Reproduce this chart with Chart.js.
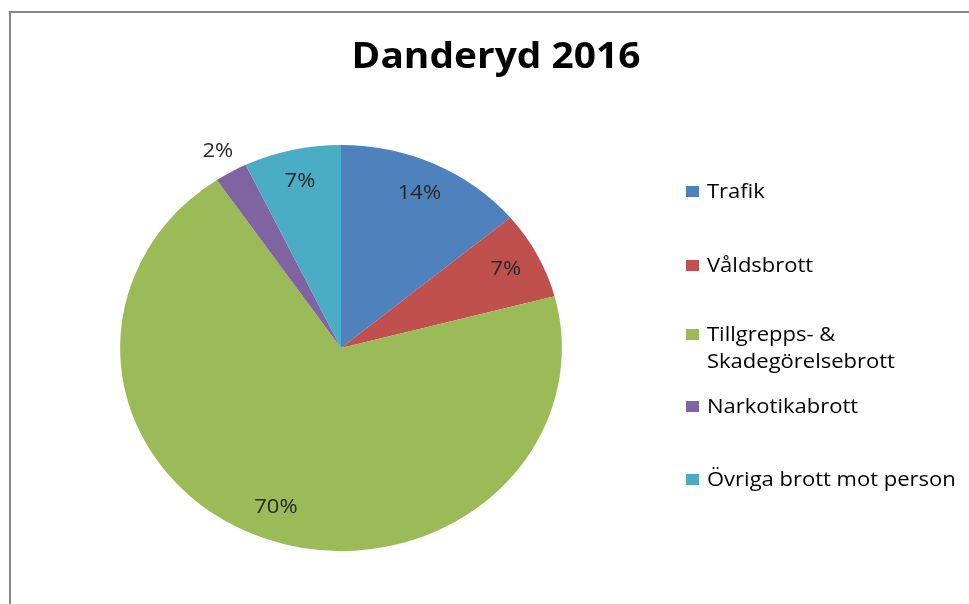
<!DOCTYPE html>
<html>
<head>
<meta charset="utf-8">
<script src="https://cdn.jsdelivr.net/npm/chart.js@4.4.0/dist/chart.umd.min.js"></script>
<style>
  html, body { margin: 0; padding: 0; background: #fff; }
  #frame {
    position: absolute; left: 9px; top: 11px; width: 960px; height: 593px;
    border-left: 2px solid #868686; border-top: 2px solid #868686; overflow: hidden;
  }
  #myChart { display: block; }
</style>
</head>
<body>
<div id="frame"><canvas id="myChart" width="958" height="591"></canvas></div>
<script>
const chartTitle = "Danderyd 2016";
const categories = ["Trafik", "Våldsbrott", "Tillgrepps- & Skadegörelsebrott", "Narkotikabrott", "Övriga brott mot person"];
const legendLines = [["Trafik"], ["Våldsbrott"], ["Tillgrepps- &", "Skadegörelsebrott"], ["Narkotikabrott"], ["Övriga brott mot person"]];
const shares = [13.9, 7.0, 69.6, 2.4, 7.1];
const colors = ["#4F81BD", "#C0504D", "#9BBB59", "#8064A2", "#4BACC6"];

// the original picture is a bit wider than tall
const stretchX = 1.088;

function wideText(ctx, text, x, y, sx) {
    ctx.save();
    ctx.translate(x, y);
    ctx.scale(sx, 1);
    ctx.fillText(text, 0, 0);
    ctx.restore();
}

const decor = {
    id: "decor",
    beforeDatasetsDraw(chart) {
        const a = chart.chartArea;
        const cx = (a.left + a.right) / 2;
        chart.ctx.save();
        chart.ctx.translate(cx, 0);
        chart.ctx.scale(stretchX, 1);
        chart.ctx.translate(-cx, 0);
    },
    afterDatasetsDraw(chart) {
        const ctx = chart.ctx;
        ctx.restore();
        const meta = chart.getDatasetMeta(0);
        const data = chart.data.datasets[0].data;
        const total = data.reduce((a, b) => a + b, 0);
        ctx.save();
        ctx.fillStyle = "#000";
        ctx.textAlign = "center";
        ctx.textBaseline = "middle";
        ctx.font = "bold 36px 'Open Sans'";
        wideText(ctx, chartTitle, 485, 45, 1.08);

        ctx.font = "20px 'Open Sans'";
        ctx.fillStyle = "#262626";
        meta.data.forEach((arc, i) => {
            const p = arc.getProps(["x", "y", "startAngle", "endAngle", "outerRadius"], true);
            const mid = (p.startAngle + p.endAngle) / 2;
            const pct = data[i] / total * 100;
            const r = p.outerRadius * (pct < 5 ? 1.12 : 0.84);
            wideText(ctx, Math.round(pct) + "%", p.x + Math.cos(mid) * r * stretchX, p.y + Math.sin(mid) * r, 1.1);
        });

        const rowY = [179, 253, 322, 394, 467];
        ctx.textAlign = "left";
        legendLines.forEach((lines, i) => {
            ctx.fillStyle = colors[i];
            ctx.fillRect(675, rowY[i] - 6, 13, 11);
            ctx.fillStyle = "#000";
            lines.forEach((t, j) => wideText(ctx, t, 696, rowY[i] + j * 27, 1.1));
        });
        ctx.restore();
    }
};

new Chart(document.getElementById("myChart").getContext("2d"), {
    type: "pie",
    data: {
        labels: categories,
        datasets: [{
            data: shares,
            backgroundColor: colors,
            borderWidth: 0
        }]
    },
    options: {
        responsive: false,
        animation: false,
        layout: { padding: { left: 127, right: 425, top: 132, bottom: 53 } },
        plugins: {
            legend: { display: false },
            title: { display: false },
            tooltip: { enabled: false }
        }
    },
    plugins: [decor]
});
</script>
</body>
</html>
